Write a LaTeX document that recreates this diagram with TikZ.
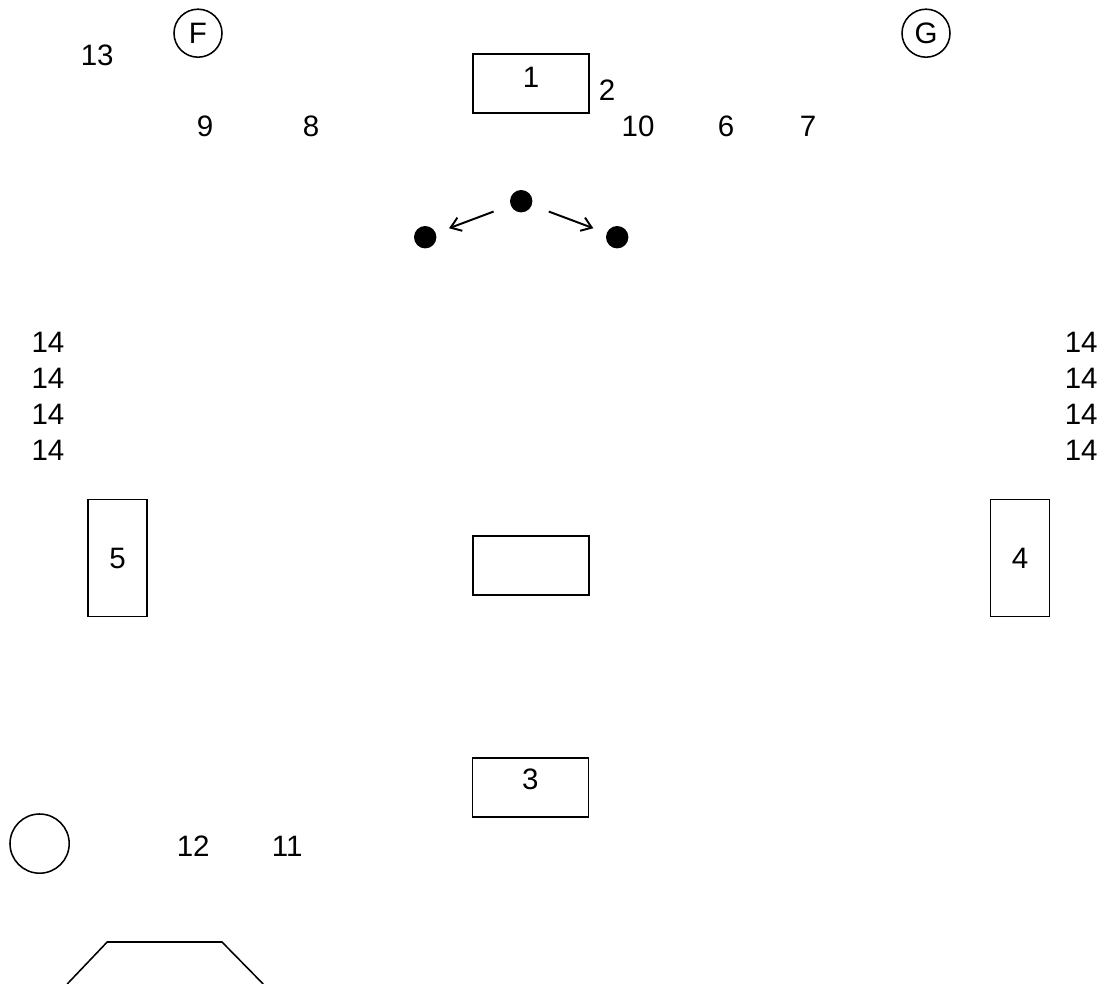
\documentclass[tikz,border=0pt]{standalone}
\usepackage{fontspec}
\setmainfont{Liberation Sans}
\usetikzlibrary{arrows.meta}
\tikzset{
  lbl/.style={font=\fontsize{21}{25}\selectfont, inner sep=1pt},
  box/.style={draw, line width=1.2pt, minimum width=2.9cm, minimum height=1.48cm, inner sep=0pt},
  tallbox/.style={box, lbl, minimum width=1.48cm, minimum height=2.93cm},
  ring/.style={draw, circle, line width=1.1pt, inner sep=0pt, minimum size=1.2cm},
  dot/.style={circle, fill, inner sep=0pt, minimum size=0.56cm},
  move/.style={-{Straight Barb[length=7pt,width=10pt]}, line width=1.4pt}
}
\begin{document}
\begin{tikzpicture}
            \useasboundingbox (0,0) rectangle (27.65,-24.6);
            % Top row
            \node[lbl] (n13) at (2.43,-1.38) {13};
            \node[ring, lbl] (F) at (4.95,-0.83) {F};
            \node[ring, lbl] (G) at (23.15,-0.83) {G};
            \node[box, label={[lbl,anchor=north,yshift=-9pt]north:1}] (one) at (13.28,-2.09) {};
            \node[lbl] (n2) at (15.18,-2.25) {2};
            \node[lbl] (n9) at (5.13,-3.15) {9};
            \node[lbl] (n8) at (7.78,-3.15) {8};
            \node[lbl] (n10) at (15.95,-3.15) {10};
            \node[lbl] (n6) at (18.15,-3.15) {6};
            \node[lbl] (n7) at (20.2,-3.15) {7};
            % Dots and arrows
            \node[dot] (top) at (13.03,-5.03) {};
            \node[dot] (left) at (10.63,-5.93) {};
            \node[dot] (right) at (15.43,-5.93) {};
            \draw[move, shorten <=0.45cm, shorten >=0.35cm] (top) -- (left);
            \draw[move, shorten <=0.45cm, shorten >=0.35cm] (top) -- (right);
            % Side labels
            \foreach \i/\y in {1/-8.55, 2/-9.45, 3/-10.35, 4/-11.25} {
                \node[lbl] (l\i) at (1.2,\y) {14};
                \node[lbl] (r\i) at (27.03,\y) {14};
            }
            % Middle boxes
            \node[tallbox] (five) at (2.94,-13.95) {5};
            \node[tallbox] (four) at (25.5,-13.95) {4};
            \node[box] (mid) at (13.28,-14.14) {};
            \node[box, label={[lbl,anchor=north,yshift=-7pt]north:3}] (three) at (13.26,-19.69) {};
            % Bottom
            \node[ring, minimum size=1.48cm] (c) at (0.99,-21.09) {};
            \node[lbl] (n12) at (4.83,-21.15) {12};
            \node[lbl] (n11) at (7.18,-21.15) {11};
            \draw[line width=1.1pt] (1.68,-24.6) -- (2.68,-23.55) -- (5.55,-23.55) -- (6.58,-24.6);
        \end{tikzpicture}
\end{document}
